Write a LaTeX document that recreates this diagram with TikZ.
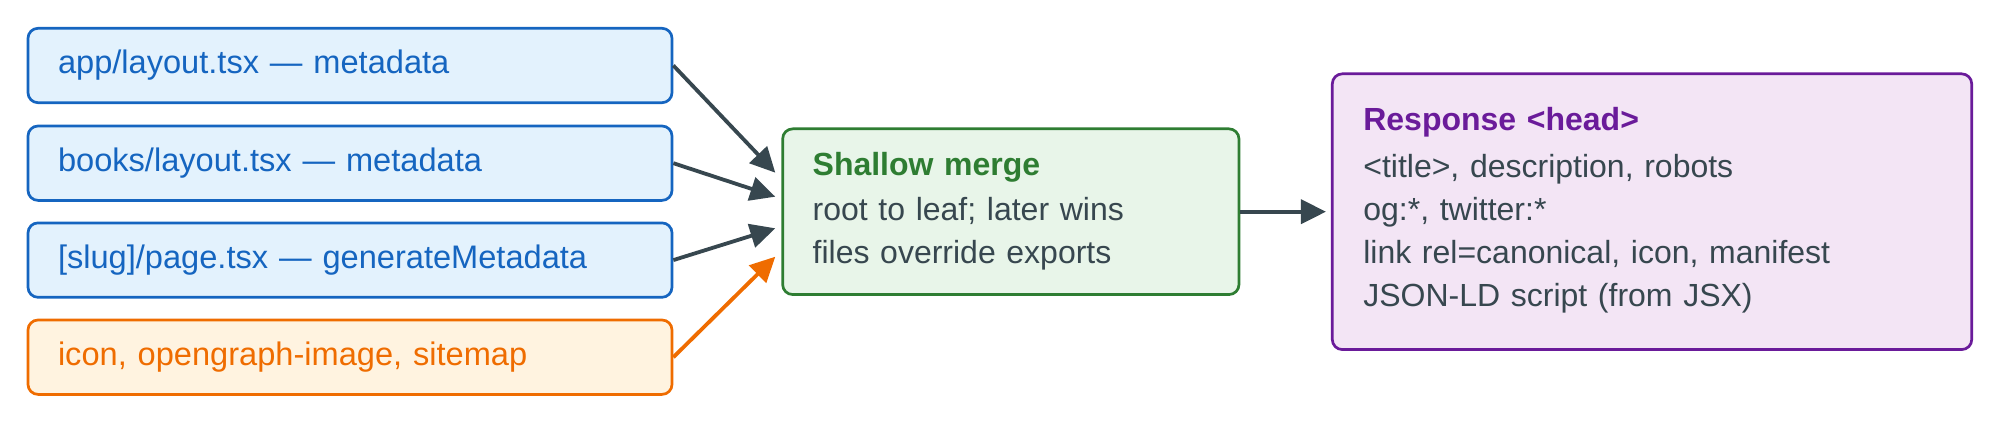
\documentclass[tikz,border=0pt]{standalone}
\usepackage{fontspec}
\setmainfont{Liberation Sans}
\usepackage{tikz}
\usetikzlibrary{arrows.meta}
\definecolor{srcblue}{HTML}{1565C0}
\definecolor{srcbluefill}{HTML}{E3F2FD}
\definecolor{srcorange}{HTML}{EF6C00}
\definecolor{srcorangefill}{HTML}{FFF3E0}
\definecolor{mergegreen}{HTML}{2E7D32}
\definecolor{mergefill}{HTML}{E8F5E9}
\definecolor{headpurple}{HTML}{6A1B9A}
\definecolor{headfill}{HTML}{F3E5F5}
\definecolor{ink}{HTML}{37474F}

\begin{document}
\begin{tikzpicture}[x=1pt,y=1pt,
  box/.style={draw,line width=1.35pt,rounded corners=5pt,align=left,
    font=\fontsize{16}{21.5}\selectfont,inner xsep=15pt},
  src/.style={box,draw=srcblue,fill=srcbluefill,text=srcblue,
    font=\fontsize{16.3}{21.5}\selectfont,minimum height=37.2pt,text width=292pt},
  flow/.style={draw=ink,line width=1.9pt,-{Triangle[length=12.5pt,width=12pt]}}]
\useasboundingbox (0,0) rectangle (1000,214.5);
\node [src] (app) at (175,181.75) {app/layout.tsx — metadata};
\node [src] (books) at (175,132.9) {books/layout.tsx — metadata};
\node [src] (slug) at (175,84.45) {[slug]/page.tsx — generateMetadata};
\node [src,draw=srcorange,fill=srcorangefill,text=srcorange] (files) at (175,35.9)
  {icon, opengraph-image, sitemap};
\node [box,draw=mergegreen,fill=mergefill,text=ink,minimum height=82.85pt,text width=198.15pt]
  (merge) at (505.4,108.65)
  {\textcolor{mergegreen}{\textbf{Shallow merge}}\\[1pt]
   root to leaf; later wins\\
   files override exports};
\node [box,draw=headpurple,fill=headfill,text=ink,minimum height=137.85pt,text width=288.7pt,
  inner xsep=15.5pt]
  (head) at (826,108.65)
  {\textcolor{headpurple}{\textbf{Response <head>}}\\[2pt]
   <title>, description, robots\\
   og:*, twitter:*\\
   link rel=canonical, icon, manifest\\
   JSON-LD script (from JSX)\\[-17pt]\mbox{}};
% sources into the merge
\draw [flow] (app.east) -- ([xshift=-3pt,yshift=19.5pt]merge.west);
\draw [flow] (books.east) -- ([xshift=-3pt,yshift=7.5pt]merge.west);
\draw [flow] (slug.east) -- ([xshift=-3pt,yshift=-8.3pt]merge.west);
\draw [flow,draw=srcorange] (files.east) -- ([xshift=-3pt,yshift=-22.5pt]merge.west);
% merge result
\draw [flow] (merge.east) -- ([xshift=-2.5pt]head.west);
\end{tikzpicture}
\end{document}
